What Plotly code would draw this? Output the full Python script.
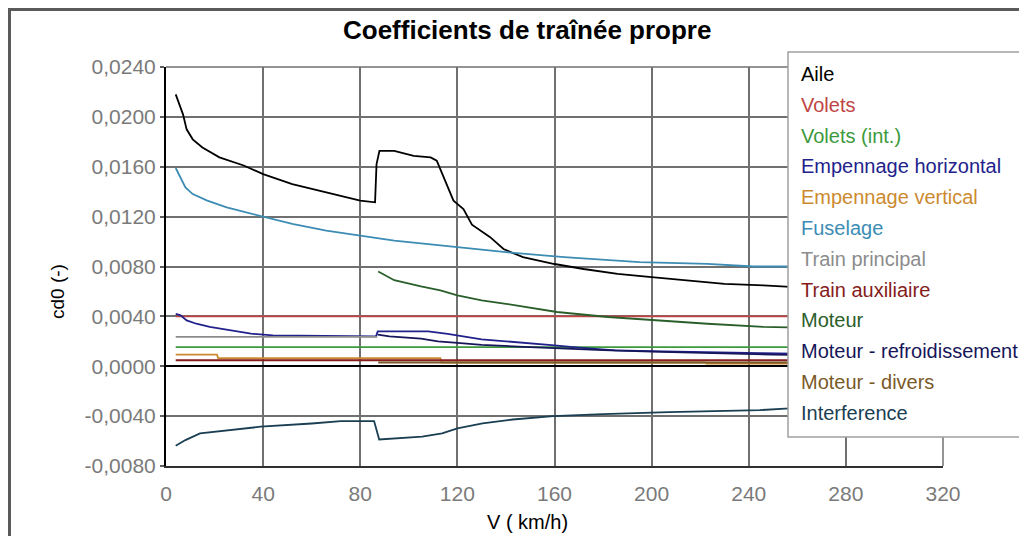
import plotly.graph_objects as go

# ---------------- data ----------------
series_names = ["Aile", "Volets", "Volets (int.)", "Empennage horizontal",
                "Empennage vertical", "Fuselage", "Train principal",
                "Train auxiliaire", "Moteur", "Moteur - refroidissement",
                "Moteur - divers", "Interference"]
series_colors = ["#000000", "#c04444", "#3c9a3c", "#22228c", "#cc8a30",
                 "#3c8cb4", "#8c8c8c", "#861c1c", "#2a5e2a", "#16165a",
                 "#7a5a28", "#1a3e52"]

v_aile = [4, 7, 8.5, 11, 15, 22, 32, 40, 52, 66, 80, 86.1, 86.7, 87.9, 94, 102,
          109, 111.5, 115.6, 118.4, 122.5, 126, 133.5, 139, 147, 160, 172, 186,
          200, 216, 230, 246, 270, 300]
cd_aile = [0.0218, 0.0202, 0.0190, 0.0182, 0.01755, 0.01675, 0.0161, 0.01541,
           0.01461, 0.01395, 0.01328, 0.01315, 0.0162, 0.01728, 0.01728, 0.01688,
           0.01675, 0.01648, 0.01461, 0.01328, 0.01261, 0.01135, 0.01035, 0.0094,
           0.00875, 0.0082, 0.0078, 0.0074, 0.00715, 0.00688, 0.00661, 0.00648,
           0.0062, 0.0059]

v_volets = [4, 300]
cd_volets = [0.0040, 0.0040]

v_volets_int = [4, 300]
cd_volets_int = [0.00154, 0.00154]

v_emp_h = [4, 6, 8.5, 12.5, 18, 26, 35, 44, 63, 86.5, 87.2, 108, 116, 122, 130,
           140, 150, 160, 170, 185, 205, 225, 245, 300]
cd_emp_h = [0.0042, 0.00408, 0.00368, 0.00341, 0.00315, 0.00288, 0.00261,
            0.00248, 0.00242, 0.0024, 0.0028, 0.0028, 0.0026, 0.0024, 0.00216,
            0.0020, 0.00187, 0.00168, 0.0015, 0.00128, 0.0012, 0.0011, 0.00105,
            0.0009]

v_emp_v = [4, 21, 21.5, 113, 113.5, 222, 222.5, 300]
cd_emp_v = [0.00093, 0.00093, 0.00064, 0.00064, 0.0003, 0.0003, 0.00022, 0.00022]

v_fuselage = [4, 8, 11, 17, 25, 39, 52, 66, 80, 94, 107, 113, 128, 140, 164,
              195, 223, 242, 256, 300]
cd_fuselage = [0.0159, 0.01434, 0.01381, 0.01328, 0.01274, 0.01208, 0.01141,
               0.01088, 0.01048, 0.01008, 0.00981, 0.00968, 0.00941, 0.00915,
               0.00875, 0.00835, 0.00821, 0.0080, 0.0080, 0.0077]

v_train_p = [4, 87]
cd_train_p = [0.00235, 0.00235]

v_train_a = [4, 300]
cd_train_a = [0.00048, 0.00048]

v_moteur = [87.4, 94, 105, 113, 120, 130, 140, 161, 182, 202, 223, 246, 256, 300]
cd_moteur = [0.0076, 0.0069, 0.0064, 0.00608, 0.00568, 0.00528, 0.00501,
             0.00435, 0.00395, 0.00368, 0.00341, 0.00315, 0.00312, 0.0029]

v_refroid = [87.2, 92, 105, 112, 120, 130, 145, 160, 180, 200, 225, 250, 300]
cd_refroid = [0.00253, 0.0024, 0.00221, 0.0020, 0.00187, 0.00172, 0.00158,
              0.00145, 0.0013, 0.00118, 0.00105, 0.00094, 0.0008]

v_divers = [87.4, 300]
cd_divers = [0.0003, 0.0003]

v_interf = [4, 8, 14, 27, 39, 60, 72, 85.7, 87.8, 105.5, 113.7, 120, 130.4,
            142.8, 159.4, 180, 207, 244.5, 255, 300]
cd_interf = [-0.00637, -0.00592, -0.00539, -0.00512, -0.00485, -0.00459,
             -0.0044, -0.0044, -0.00587, -0.00565, -0.00539, -0.00499, -0.00459,
             -0.00427, -0.0040, -0.00384, -0.00368, -0.00352, -0.0034, -0.0031]

x_tick_vals = [0, 40, 80, 120, 160, 200, 240, 280, 320]
x_tick_text = ["0", "40", "80", "120", "160", "200", "240", "280", "320"]
y_tick_vals = [0.024, 0.020, 0.016, 0.012, 0.008, 0.004, 0.0, -0.004, -0.008]
y_tick_text = ["0,0240", "0,0200", "0,0160", "0,0120", "0,0080", "0,0040",
               "0,0000", "-0,0040", "-0,0080"]

title_text = "Coefficients de traînée propre"
x_title = "V ( km/h)"
y_title = "cd0 (-)"

all_v = [v_aile, v_volets, v_volets_int, v_emp_h, v_emp_v, v_fuselage,
         v_train_p, v_train_a, v_moteur, v_refroid, v_divers, v_interf]
all_cd = [cd_aile, cd_volets, cd_volets_int, cd_emp_h, cd_emp_v, cd_fuselage,
          cd_train_p, cd_train_a, cd_moteur, cd_refroid, cd_divers, cd_interf]

# ---------------- layout geometry (pixels) ----------------
OFF = 8                      # page body margin
W, H = 1027 - OFF, 536 - OFF
L, R, T, B = 158, 84, 59, 70
PW, PH = W - L - R, H - T - B


def px(x):
    return (x - OFF - L) / PW


def py(y):
    return (H - B - (y - OFF)) / PH


FONT = "Liberation Sans, Arial, sans-serif"

fig = go.Figure()
for name, col, vv, cc in zip(series_names, series_colors, all_v, all_cd):
    fig.add_trace(go.Scatter(x=vv, y=cc, mode="lines", name=name,
                             line=dict(color=col, width=1.8), showlegend=False,
                             hoverinfo="skip"))

shapes = [
    # outer window frame
    dict(type="rect", xref="paper", yref="paper", x0=px(9.5), x1=px(1100),
         y0=py(600), y1=py(9.5), line=dict(color="#5a5a5a", width=3),
         fillcolor="rgba(0,0,0,0)", layer="below"),
    # right and top edges of the plot frame
    dict(type="line", xref="paper", yref="paper", x0=1, x1=1, y0=0, y1=1,
         line=dict(color="#707070", width=1.5), layer="below"),
    dict(type="line", xref="paper", yref="paper", x0=0, x1=1, y0=1, y1=1,
         line=dict(color="#707070", width=1.5), layer="below"),
    # legend box
    dict(type="rect", xref="paper", yref="paper", x0=px(788), x1=px(1100),
         y0=py(437), y1=py(52), line=dict(color="#a0a0a0", width=1.5),
         fillcolor="white", layer="above"),
]

annotations = [
    dict(text="<b>" + title_text + "</b>", xref="paper", yref="paper",
         x=px(527), y=py(30), xanchor="center", yanchor="middle",
         showarrow=False, font=dict(family=FONT, size=26, color="black")),
    dict(text=x_title, xref="paper", yref="paper", x=px(527), y=py(522),
         xanchor="center", yanchor="middle", showarrow=False,
         font=dict(family=FONT, size=20, color="black")),
    dict(text=y_title, xref="paper", yref="paper", x=px(57), y=py(292),
         xanchor="center", yanchor="middle", showarrow=False, textangle=-90,
         font=dict(family=FONT, size=19, color="black")),
]
for i, (name, col) in enumerate(zip(series_names, series_colors)):
    annotations.append(dict(text=name, xref="paper", yref="paper",
                            x=px(799), y=py(74 + i * 30.8), xanchor="left",
                            yanchor="middle", showarrow=False,
                            font=dict(family=FONT, size=20, color=col)))

fig.update_layout(
    width=W, height=H,
    margin=dict(l=L, r=R, t=T, b=B),
    paper_bgcolor="white", plot_bgcolor="white",
    showlegend=False,
    shapes=shapes, annotations=annotations,
    xaxis=dict(range=[0, 320], tickvals=x_tick_vals, ticktext=x_tick_text,
               showgrid=True, gridcolor="#707070", gridwidth=1.5,
               showline=True, linecolor="#303030", linewidth=2, mirror=False,
               zeroline=False, ticks="", ticklabelstandoff=8,
               tickfont=dict(family=FONT, size=21, color="#7a7a7a")),
    yaxis=dict(range=[-0.008, 0.024], tickvals=y_tick_vals, ticktext=y_tick_text,
               showgrid=True, gridcolor="#707070", gridwidth=1.5,
               showline=True, linecolor="#000000", linewidth=2,
               zeroline=True, zerolinecolor="#000000", zerolinewidth=2,
               ticks="outside", ticklen=4, tickcolor="#606060", tickwidth=1.5,
               tickfont=dict(family=FONT, size=21, color="#7a7a7a")),
)

fig.write_html("out.html")
